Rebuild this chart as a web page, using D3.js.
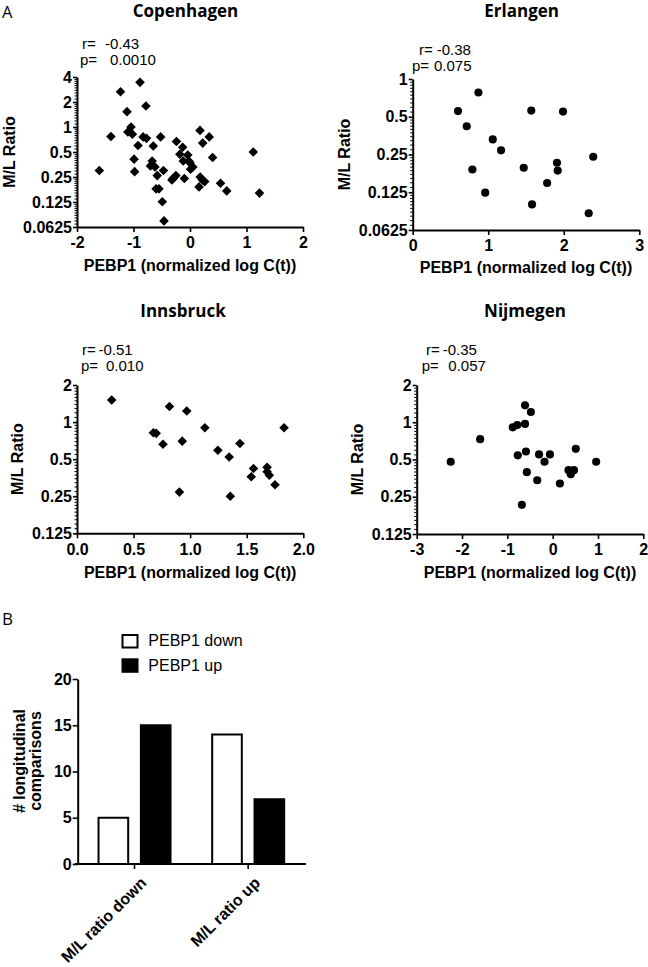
<!DOCTYPE html>
<html>
<head>
<meta charset="utf-8">
<script src="https://cdn.jsdelivr.net/npm/d3@7/dist/d3.min.js"></script>
<style>
  html, body { margin: 0; padding: 0; background: #fff; }
  svg { display: block; }
</style>
</head>
<body>
<svg id="chart" width="648" height="967"></svg>
<script>
// ---------------- DATA ----------------
const copenhagenX = [-0.885,-1.23,-0.78,-1.115,-1.044,-1.10,-1.02,-1.40,-0.83,-0.77,-0.52,-0.92,-0.65,-0.24,-0.13,0.177,0.34,0.225,1.12,
  -1.605,-0.99,-0.98,-0.67,-0.70,-0.62,-0.47,-0.58,-0.60,-0.55,-0.49,-0.46,-0.18,-0.12,-0.04,-0.02,0.0,0.05,0.01,-0.25,-0.30,-0.32,-0.10,0.18,0.22,0.26,0.16,0.40,0.54,0.65,1.23];
const copenhagenY = [3.45,2.66,1.79,1.53,1.0,0.87,0.82,0.77,0.76,0.73,0.76,0.60,0.59,0.67,0.57,0.91,0.76,0.64,0.50,
  0.30,0.41,0.29,0.39,0.34,0.33,0.30,0.26,0.18,0.18,0.126,0.074,0.47,0.39,0.46,0.39,0.37,0.33,0.31,0.26,0.24,0.23,0.24,0.25,0.23,0.22,0.19,0.43,0.21,0.17,0.16];

const erlangenX = [0.87,0.60,1.57,1.99,0.715,1.06,1.17,2.39,0.79,1.47,1.91,1.92,1.78,0.96,1.58,2.33];
const erlangenY = [0.78,0.555,0.56,0.55,0.42,0.33,0.27,0.24,0.19,0.196,0.215,0.186,0.148,0.124,0.10,0.085];

const innsbruckX = [0.307,0.817,0.97,0.675,0.70,1.13,1.83,0.76,0.93,1.44,1.245,1.345,1.56,1.68,1.68,1.70,1.54,1.75,0.905,1.355];
const innsbruckY = [1.51,1.34,1.23,0.82,0.81,0.90,0.90,0.66,0.70,0.67,0.59,0.52,0.42,0.43,0.395,0.37,0.36,0.31,0.27,0.25];

const nijmegenX = [-0.61,-0.48,-0.88,-0.78,-0.61,-1.60,-2.25,-0.77,-0.59,-0.30,-0.06,-0.18,0.51,0.96,0.35,0.47,0.40,-0.57,-0.34,0.16,-0.68];
const nijmegenY = [1.37,1.21,0.91,0.95,0.97,0.73,0.48,0.54,0.58,0.55,0.55,0.48,0.61,0.48,0.41,0.41,0.38,0.395,0.34,0.32,0.215];

const cityNames = ["Copenhagen","Erlangen","Innsbruck","Nijmegen"];
const rValues = ["-0.43","-0.38","-0.51","-0.35"];
const pValues = ["0.0010","0.075","0.010","0.057"];
const xDomains = [[-2,2],[0,3],[0,2],[-3,2]];
const xTicks = [[-2,-1,0,1,2],[0,1,2,3],[0,0.5,1,1.5,2],[-3,-2,-1,0,1,2]];
const yDomains = [[0.0625,4],[0.0625,1],[0.125,2],[0.125,2]];
const yTickLabels = {4:"4",2:"2",1:"1",0.5:"0.5",0.25:"0.25",0.125:"0.125",0.0625:"0.0625"};
const xAxisTitle = "PEBP1 (normalized log C(t))";
const yAxisTitle = "M/L Ratio";

const barCategories = ["M/L ratio down","M/L ratio up"];
const barSeries = ["PEBP1 down","PEBP1 up"];
const pebp1Down = [5,14];
const pebp1Up = [15,7];
const barYTicks = [0,5,10,15,20];
const barYTitle = ["# longitudinal","comparisons"];

// ---------------- LAYOUT ----------------
const svg = d3.select("#chart");
const ARIAL = "'Liberation Sans', Arial, sans-serif";
const TITLEF = "'Open Sans', 'Noto Sans', sans-serif";

const panels = [
  {x: copenhagenX, y: copenhagenY, L:77, R:303, T:77, B:227, marker:"diamond",
   title:[185.5,17], rx:[82,105,49], px:[80,110,64.5], ylab:[15], xlabY:270.5},
  {x: erlangenX, y: erlangenY, L:412.7, R:639.3, T:79, B:230, marker:"circle",
   title:[521.7,17], rx:[419,436.7,55], px:[412,434,70.7], ylab:[350], xlabY:273.3},
  {x: innsbruckX, y: innsbruckY, L:77, R:303.3, T:385, B:533.3, marker:"diamond",
   title:[183,316.5], rx:[82,98.5,355.3], px:[81,106,371], ylab:[23], xlabY:578.3},
  {x: nijmegenX, y: nijmegenY, L:416.7, R:643.3, T:385, B:534, marker:"circle",
   title:[525,316.5], rx:[426,442.7,355.3], px:[421.7,448.3,371], ylab:[363], xlabY:578.3}
];

// panel letters
svg.append("text").attr("x",2).attr("y",17.5).attr("font-family",TITLEF)
  .attr("font-size",16.5).attr("fill","#000").text("A");
svg.append("text").attr("x",2).attr("y",625).attr("font-family",TITLEF)
  .attr("font-size",17).attr("fill","#000").text("B");

function styleAxis(g){
  g.select(".domain").attr("stroke","#000").attr("stroke-width",2);
  g.selectAll(".tick line").attr("stroke","#000").attr("stroke-width",1.6);
  g.selectAll(".tick text").attr("font-family",ARIAL).attr("font-size",16)
    .attr("font-weight","bold").attr("fill","#000");
}

panels.forEach((p,i) => {
  const xs = d3.scaleLinear().domain(xDomains[i]).range([p.L,p.R]);
  const ys = d3.scaleLog().base(2).domain(yDomains[i]).range([p.B,p.T]);
  const g = svg.append("g");

  // title
  g.append("text").attr("x",p.title[0]).attr("y",p.title[1]).attr("text-anchor","middle")
    .attr("font-family",TITLEF).attr("font-weight","bold").attr("font-size",17).text(cityNames[i]);

  // stats
  const SF = 15;
  g.append("text").attr("x",p.rx[0]).attr("y",p.rx[2]).attr("font-family",ARIAL).attr("font-size",SF).text("r=");
  g.append("text").attr("x",p.rx[1]).attr("y",p.rx[2]).attr("font-family",ARIAL).attr("font-size",SF).text(rValues[i]);
  g.append("text").attr("x",p.px[0]).attr("y",p.px[2]).attr("font-family",ARIAL).attr("font-size",SF).text("p=");
  g.append("text").attr("x",p.px[1]).attr("y",p.px[2]).attr("font-family",ARIAL).attr("font-size",SF).text(pValues[i]);

  // y minor ticks
  const [y0,y1] = yDomains[i];
  const majors = [];
  for (let v=y0; v<=y1*1.0001; v*=2) majors.push(v);
  const minors = [];
  majors.slice(0,-1).forEach(v => { for (let k=1;k<10;k++) minors.push(v*(1+k/10)); });
  g.append("g").attr("transform",`translate(${p.L},0)`)
    .call(d3.axisLeft(ys).tickValues(minors).tickSize(2.5).tickFormat(""))
    .call(a => { a.select(".domain").remove(); a.selectAll(".tick line").attr("stroke","#000").attr("stroke-width",1); });

  // y axis
  const ya = g.append("g").attr("transform",`translate(${p.L},0)`)
    .call(d3.axisLeft(ys).tickValues(majors).tickSize(4).tickSizeOuter(0).tickPadding(1)
      .tickFormat(v => yTickLabels[v]));
  styleAxis(ya);

  // x axis
  const fmt = i===2 ? d3.format(".1f") : d3.format("d");
  const xa = g.append("g").attr("transform",`translate(0,${p.B})`)
    .call(d3.axisBottom(xs).tickValues(xTicks[i]).tickSize(5).tickSizeOuter(0).tickPadding(5)
      .tickFormat(d => fmt(d).replace("−","-")));
  styleAxis(xa);

  // axis titles
  g.append("text").attr("x",(p.L+p.R)/2).attr("y",p.xlabY).attr("text-anchor","middle")
    .attr("font-family",ARIAL).attr("font-weight","bold").attr("font-size",16).text(xAxisTitle);
  g.append("text").attr("transform",`translate(${p.ylab[0]},${(p.T+p.B)/2}) rotate(-90)`)
    .attr("text-anchor","middle").attr("font-family",ARIAL).attr("font-weight","bold")
    .attr("font-size",16).text(yAxisTitle);

  // points
  const sym = p.marker === "circle"
    ? d3.symbol().type(d3.symbolCircle).size(52)
    : d3.symbol().type(d3.symbolSquare).size(46);
  g.append("g").selectAll("path").data(d3.range(p.x.length)).join("path")
    .attr("d", sym)
    .attr("transform", k => `translate(${xs(p.x[k])},${ys(p.y[k])})` + (p.marker==="circle" ? "" : " rotate(45)"))
    .attr("fill","#000");
});

// ---------------- BAR CHART ----------------
const bL = 77.7, bR = 305, bT = 679, bB = 864;
const bx = d3.scaleBand().domain(barCategories).range([bL,bR]).paddingInner(0).paddingOuter(0);
const bx1 = d3.scaleBand().domain(barSeries).range([-36,36]).paddingInner(0.3);
const by = d3.scaleLinear().domain([0,20]).range([bB,bT]);
const bg = svg.append("g");

const barRows = [];
barCategories.forEach((c,ci) => {
  barRows.push({cat:c, s:barSeries[0], v:pebp1Down[ci]});
  barRows.push({cat:c, s:barSeries[1], v:pebp1Up[ci]});
});
bg.selectAll("rect.bar").data(barRows).join("rect").attr("class","bar")
  .attr("x", d => bx(d.cat) + bx.bandwidth()/2 + bx1(d.s))
  .attr("width", bx1.bandwidth())
  .attr("y", d => by(d.v))
  .attr("height", d => by(0) - by(d.v))
  .attr("fill", d => d.s === barSeries[0] ? "#fff" : "#000")
  .attr("stroke","#000").attr("stroke-width",2);

const bya = bg.append("g").attr("transform",`translate(${bL},0)`)
  .call(d3.axisLeft(by).tickValues(barYTicks).tickSize(5).tickSizeOuter(0).tickPadding(1));
styleAxis(bya);

const bxa = bg.append("g").attr("transform",`translate(0,${bB})`)
  .call(d3.axisBottom(bx).tickSize(5).tickSizeOuter(0).tickFormat(""));
styleAxis(bxa);
bxa.select(".domain").attr("d",`M${bL-3},0H${bR+1}`);

barCategories.forEach(c => {
  const cx = bx(c) + bx.bandwidth()/2;
  bg.append("text").attr("transform",`translate(${cx+5},${bB+12}) rotate(-45)`)
    .attr("text-anchor","end").attr("dy","0.7em")
    .attr("font-family",ARIAL).attr("font-weight","bold").attr("font-size",16).text(c);
});

// y title (two lines)
const ycy = 761;
bg.append("text").attr("transform",`translate(25,${ycy}) rotate(-90)`).attr("text-anchor","middle")
  .attr("font-family",ARIAL).attr("font-weight","bold").attr("font-size",16).text(barYTitle[0]);
bg.append("text").attr("transform",`translate(41,${ycy}) rotate(-90)`).attr("text-anchor","middle")
  .attr("font-family",ARIAL).attr("font-weight","bold").attr("font-size",16).text(barYTitle[1]);

// legend
const legY = [634, 658.3];
barSeries.forEach((s,k) => {
  bg.append("rect").attr("x",122.5).attr("y",legY[k]+1).attr("width",15).attr("height",12.5)
    .attr("fill", k===0 ? "#fff" : "#000").attr("stroke","#000").attr("stroke-width",2);
  bg.append("text").attr("x",148.3).attr("y",[646,671][k]).attr("font-family",ARIAL)
    .attr("font-size",16).text(s);
});
</script>
</body>
</html>
